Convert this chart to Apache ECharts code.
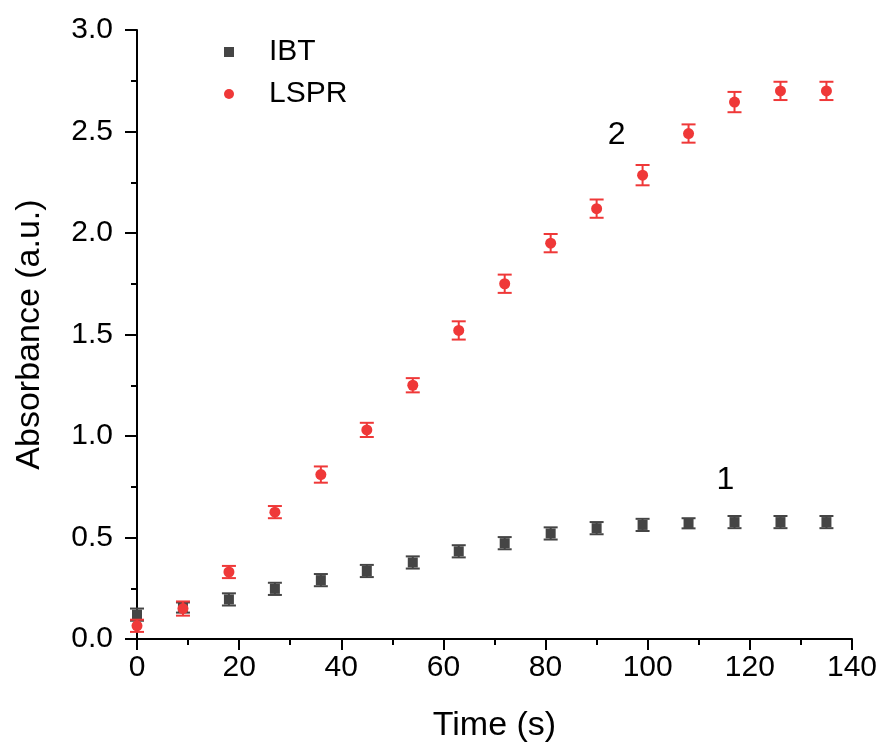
<!DOCTYPE html>
<html>
<head>
<meta charset="utf-8">
<title>Absorbance vs time</title>
<script src="https://cdn.jsdelivr.net/npm/echarts@6/dist/echarts.min.js"></script>
<style>
  html, body { margin: 0; padding: 0; background: #fff; }
  #chart { width: 880px; height: 749px; }
</style>
</head>
<body>
<div id="chart"></div>
<script>
// time points (s)
var times = [0, 9, 18, 27, 36, 45, 54, 63, 72, 81, 90, 99, 108, 117, 126, 135];
// curve 1 - IBT
var ibtValues = [0.12, 0.155, 0.195, 0.247, 0.29, 0.335, 0.377, 0.432, 0.472, 0.52, 0.546, 0.562, 0.57, 0.576, 0.576, 0.576];
var ibtErrors = [0.03, 0.025, 0.03, 0.03, 0.03, 0.03, 0.03, 0.03, 0.03, 0.03, 0.03, 0.03, 0.025, 0.03, 0.03, 0.03];
// curve 2 - LSPR
var lsprValues = [0.065, 0.15, 0.33, 0.625, 0.81, 1.03, 1.25, 1.52, 1.75, 1.95, 2.12, 2.285, 2.49, 2.645, 2.70, 2.70];
var lsprErrors = [0.03, 0.035, 0.03, 0.03, 0.04, 0.035, 0.035, 0.045, 0.045, 0.045, 0.045, 0.05, 0.045, 0.05, 0.045, 0.045];
// curve number labels
var noteText = ['1', '2'];
var noteX = [115.2, 93.9];
var noteY = [0.78, 2.48];

var FONT = 'Liberation Sans';
var GREY = '#454545';
var RED = '#ef3838';

function pairs(xs, ys) {
    return xs.map(function (x, i) { return [x, ys[i]]; });
}
function errRows(xs, ys, es) {
    return xs.map(function (x, i) { return [x, ys[i] - es[i], ys[i] + es[i]]; });
}
function errorBar(color) {
    return function (params, api) {
        var lo = api.coord([api.value(0), api.value(1)]);
        var hi = api.coord([api.value(0), api.value(2)]);
        var half = 7;
        var style = { stroke: color, lineWidth: 2 };
        return {
            type: 'group',
            children: [
                { type: 'line', shape: { x1: lo[0], y1: lo[1], x2: hi[0], y2: hi[1] }, style: style },
                { type: 'line', shape: { x1: lo[0] - half, y1: lo[1], x2: lo[0] + half, y2: lo[1] }, style: style },
                { type: 'line', shape: { x1: hi[0] - half, y1: hi[1], x2: hi[0] + half, y2: hi[1] }, style: style }
            ]
        };
    };
}

var chart = echarts.init(document.getElementById('chart'));
var axisCommon = {
    type: 'value',
    nameLocation: 'middle',
    nameTextStyle: { fontFamily: FONT, fontSize: 34, color: '#000' },
    axisLine: { show: true, onZero: false, lineStyle: { color: '#000', width: 2 } },
    axisTick: { show: true, inside: false, lineStyle: { color: '#000', width: 2 } },
    minorTick: { show: true, splitNumber: 2, length: 6, lineStyle: { color: '#000', width: 2 } },
    splitLine: { show: false },
    axisLabel: { fontFamily: FONT, fontSize: 30, color: '#000' }
};

var option = {
    animation: false,
    backgroundColor: '#fff',
    grid: { left: 137, right: 26, top: 30, bottom: 110, containLabel: false },
    legend: {
        orient: 'vertical',
        left: 219,
        top: 32,
        itemWidth: 10,
        itemHeight: 10,
        itemGap: 12,
        data: ['IBT', 'LSPR'],
        textStyle: { fontFamily: FONT, fontSize: 30, color: '#000', padding: [0, 0, 0, 30] }
    },
    xAxis: Object.assign({}, axisCommon, {
        name: 'Time (s)',
        nameGap: 70,
        min: 0, max: 140, interval: 20,
        axisTick: Object.assign({}, axisCommon.axisTick, { length: 11 }),
        axisLabel: Object.assign({}, axisCommon.axisLabel, { margin: 14 })
    }),
    yAxis: Object.assign({}, axisCommon, {
        name: 'Absorbance (a.u.)',
        nameGap: 90,
        min: 0, max: 3, interval: 0.5,
        axisTick: Object.assign({}, axisCommon.axisTick, { length: 12 }),
        axisLabel: Object.assign({}, axisCommon.axisLabel, {
            margin: 24,
            formatter: function (v) { return v.toFixed(1); }
        })
    }),
    series: [
        {
            type: 'custom',
            renderItem: errorBar(GREY),
            data: errRows(times, ibtValues, ibtErrors),
            encode: { x: 0, y: [1, 2] },
            z: 2
        },
        {
            name: 'IBT',
            type: 'scatter',
            symbol: 'rect',
            symbolSize: 10,
            itemStyle: { color: GREY, opacity: 1 },
            data: pairs(times, ibtValues),
            z: 3
        },
        {
            type: 'custom',
            renderItem: errorBar(RED),
            data: errRows(times, lsprValues, lsprErrors),
            encode: { x: 0, y: [1, 2] },
            z: 4
        },
        {
            name: 'LSPR',
            type: 'scatter',
            symbol: 'circle',
            symbolSize: 11,
            itemStyle: { color: RED, opacity: 1 },
            data: pairs(times, lsprValues),
            z: 5
        },
        {
            type: 'scatter',
            symbolSize: 0,
            silent: true,
            itemStyle: { opacity: 1 },
            label: {
                show: true,
                position: 'inside',
                fontFamily: FONT,
                fontSize: 32,
                color: '#000',
                formatter: function (p) { return p.data[2]; }
            },
            data: noteX.map(function (x, i) { return [x, noteY[i], noteText[i]]; }),
            z: 6
        }
    ]
};
chart.setOption(option);
</script>
</body>
</html>
